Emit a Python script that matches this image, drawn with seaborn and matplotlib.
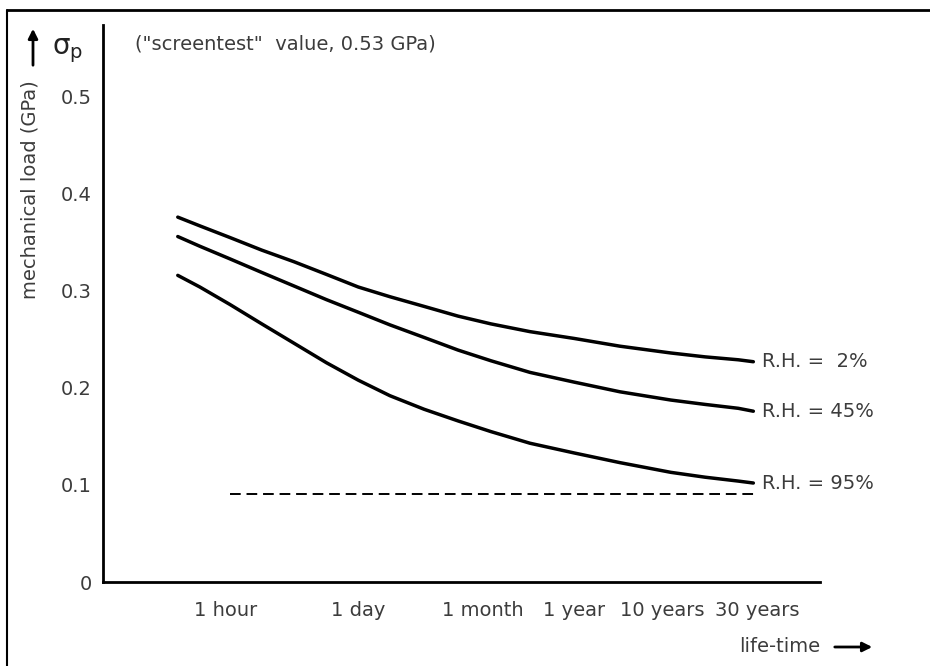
import numpy as np
import pandas as pd
import seaborn as sns
from matplotlib import pyplot as plt, ticker
from matplotlib.lines import Line2D
from matplotlib.transforms import ScaledTranslation

# life-time axis, in hours
tick_hours = [1, 24, 720, 8760, 87600, 262800]
tick_labels = ["1 hour", "1 day", "1 month", "1 year", "10 years", "30 years"]
# the original axis is hand-drawn: where each tick sits along the axis (0..1)
tick_axis_pos = [0.177, 0.356, 0.541, 0.657, 0.792, 0.886]

# mechanical load (GPa)
hours = [0.275, 0.475, 1, 2.2, 4.9, 10.9, 24, 54, 130, 310, 720, 2330,
         8760, 26100, 87600, 153000, 262800, 336000]
load_rh2 = [0.376, 0.367, 0.355, 0.342, 0.330, 0.317, 0.304, 0.294, 0.284,
            0.274, 0.266, 0.258, 0.251, 0.243, 0.236, 0.232, 0.229, 0.227]
load_rh45 = [0.356, 0.346, 0.333, 0.319, 0.305, 0.291, 0.278, 0.265, 0.252,
             0.239, 0.228, 0.216, 0.206, 0.196, 0.1875, 0.183, 0.179, 0.176]
load_rh95 = [0.316, 0.304, 0.286, 0.266, 0.246, 0.226, 0.208, 0.192, 0.178,
             0.166, 0.155, 0.143, 0.133, 0.123, 0.113, 0.108, 0.104, 0.102]
rh_labels = ["R.H. =  2%", "R.H. = 45%", "R.H. = 95%"]

# dashed limit line
dashed_hours = [1, 350000]
dashed_load = [0.091, 0.091]

ytick_values = [0, 0.1, 0.2, 0.3, 0.4, 0.5]
ytick_labels = ["0", "0.1", "0.2", "0.3", "0.4", "0.5"]
screentest_text = '("screentest"  value, 0.53 GPa)'
sigma_mark = 0.546  # where the sigma_p mark sits on the drawn axis

df = pd.DataFrame({
    "hours": hours * 3,
    "load": load_rh2 + load_rh45 + load_rh95,
    "rh": np.repeat(rh_labels, len(hours)),
})

# piecewise log scale following the drawn tick spacing
lt = np.log10(tick_hours)
s0 = (tick_axis_pos[1] - tick_axis_pos[0]) / (lt[1] - lt[0])
s1 = (tick_axis_pos[-1] - tick_axis_pos[-2]) / (lt[-1] - lt[-2])
lx = np.concatenate([[lt[0] - 10], lt, [lt[-1] + 10]])
px = np.concatenate([[tick_axis_pos[0] - 10 * s0], tick_axis_pos,
                     [tick_axis_pos[-1] + 10 * s1]])


def forward(h):
    return np.interp(np.log10(np.clip(h, 1e-12, None)), lx, px)


def inverse(p):
    return 10 ** np.interp(p, px, lx)


sns.set_style("white")
plt.rcParams["font.family"] = ["DejaVu Sans"]
text_color = "#3c3c3c"

fig = plt.figure(figsize=(9.3, 6.66), dpi=100)
ax = fig.add_axes([103 / 930, 84 / 666, 717 / 930, 557 / 666])

sns.lineplot(df, x="hours", y="load", hue="rh", palette=["black"] * 3,
             linewidth=2.5, legend=False, estimator=None, ax=ax)
ax.plot(dashed_hours, dashed_load, color="black", linewidth=1.4,
        dashes=(5.5, 3))

ax.set_xscale("function", functions=(forward, inverse))
ax.set_xlim(inverse(0), inverse(1))
ax.set_ylim(0, 0.574)
ax.set_xticks(tick_hours, tick_labels)
ax.xaxis.set_minor_locator(ticker.NullLocator())
ax.set_yticks(ytick_values + [sigma_mark],
              ytick_labels + [r"$\mathrm{\sigma_p}$"])
ax.set(xlabel="", ylabel="")

sns.despine(ax=ax)
for side in ["left", "bottom"]:
    ax.spines[side].set_linewidth(2)
    ax.spines[side].set_color("black")
ax.tick_params(axis="both", direction="out", length=5, width=1.5,
               color="black", labelsize=14, labelcolor=text_color)
ax.tick_params(axis="x", pad=9)
ax.tick_params(axis="y", pad=3)
sig = ax.get_yticklabels()[-1]
sig.set_fontsize(20)
sig.set_color("#222222")
sig.set_transform(sig.get_transform()
                  + ScaledTranslation(-6 / 72, 5 / 72, fig.dpi_scale_trans))

# nudge a few x labels the way they sit in the original drawing
for lab, dx in zip(ax.get_xticklabels(), [-3, 0, -6, 0, -6, 14]):
    lab.set_transform(lab.get_transform()
                      + ScaledTranslation(dx / 72, 0, fig.dpi_scale_trans))

# curve labels at the right-hand ends
for label, loads in zip(rh_labels, [load_rh2, load_rh45, load_rh95]):
    ax.annotate(label, xy=(hours[-1], loads[-1]), xytext=(6, 0),
                textcoords="offset points", va="center", ha="left",
                fontsize=14, color=text_color)

ax.text(0.045, sigma_mark + 0.008, screentest_text,
        transform=ax.get_yaxis_transform(), fontsize=14, color=text_color,
        va="center", ha="left")

# axis titles with arrows
fig.text(30 / 930, 1 - 190 / 666, "mechanical load (GPa)", rotation=90,
         ha="center", va="center", fontsize=14, color=text_color)
fig.add_artist(plt.Annotation("", xy=(33 / 930, 1 - 26 / 666),
                              xytext=(33 / 930, 1 - 68 / 666),
                              xycoords="figure fraction",
                              arrowprops=dict(arrowstyle="-|>", color="black",
                                              lw=2, mutation_scale=14)))
fig.text(820 / 930, 1 - 647 / 666, "life-time", ha="right", va="center",
         fontsize=14, color=text_color)
fig.add_artist(plt.Annotation("", xy=(875 / 930, 1 - 647 / 666),
                              xytext=(832 / 930, 1 - 647 / 666),
                              xycoords="figure fraction",
                              arrowprops=dict(arrowstyle="-|>", color="black",
                                              lw=2, mutation_scale=14)))

# frame lines of the scanned figure (top and left edges)
fig.add_artist(Line2D([7 / 930, 1], [1 - 9.5 / 666, 1 - 9.5 / 666],
                      transform=fig.transFigure, color="black", lw=2))
fig.add_artist(Line2D([7 / 930, 7 / 930], [0, 1 - 9.5 / 666],
                      transform=fig.transFigure, color="black", lw=1.5))

fig.savefig("out.png", dpi=100)
